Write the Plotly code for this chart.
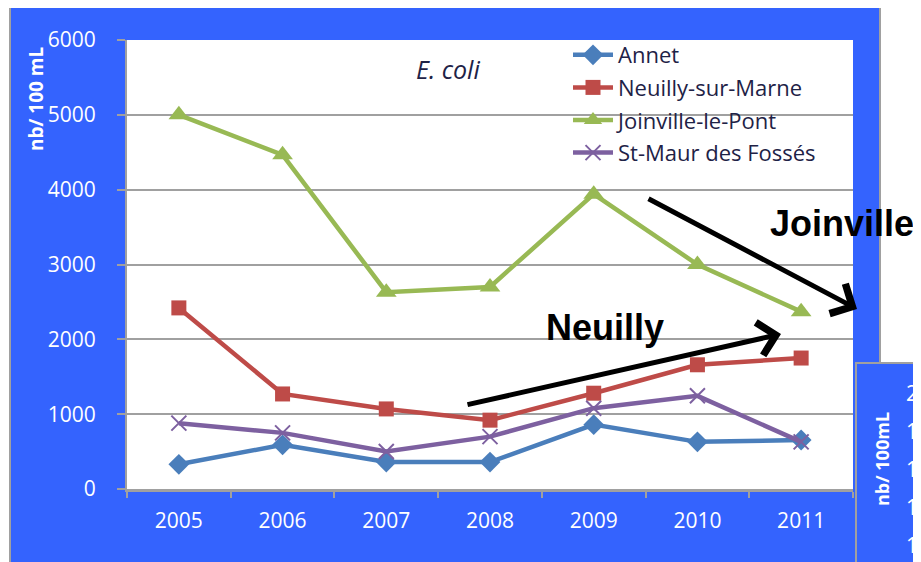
import plotly.graph_objects as go

# ---- data ----
years = ["2005", "2006", "2007", "2008", "2009", "2010", "2011"]
annet = [330, 590, 360, 360, 860, 630, 655]
neuilly = [2420, 1270, 1070, 920, 1280, 1660, 1750]
joinville = [5000, 4465, 2630, 2700, 3940, 3000, 2370]
stmaur = [880, 750, 500, 700, 1080, 1245, 630]
series_names = ["Annet", "Neuilly-sur-Marne", "Joinville-le-Pont", "St-Maur des Fossés"]
y_ticks = [0, 1000, 2000, 3000, 4000, 5000, 6000]
side_ticks = ["2", "1", "1", "1", "1"]

# ---- layout helpers (window pixel -> paper); page body has an 8px margin ----
OFF = 8
W, H = 921 - OFF, 562 - OFF
L, R, T, B = 127, 853, 40, 489
def px(x):
    return (x - L) / (R - L)
def py(y):
    return (B - y) / (B - T)

BLUE = "#3463FE"
GRAY = "#A0A0A0"
TXT = "#1E2246"
FONT = "Open Sans"

colors = ["#4A7EBB", "#BE4B48", "#98B954", "#7D60A0"]
symbols = ["diamond", "square", "triangle-up", "x-thin"]
sizes = [16, 15, 18, 15]
values = [annet, neuilly, joinville, stmaur]

fig = go.Figure()
for name, vals, c, s, sz in zip(series_names, values, colors, symbols, sizes):
    mk = dict(symbol=s, size=sz, color=c)
    if s == "x-thin":
        mk["line"] = dict(color=c, width=2)
    fig.add_trace(go.Scatter(
        x=years, y=vals, name=name, mode="lines+markers",
        line=dict(color=c, width=4.5), marker=mk, legendgroup=name,
    ))

shapes = [
    dict(type="rect", xref="paper", yref="paper", x0=px(10), x1=px(880), y0=py(575), y1=py(4),
         fillcolor=BLUE, line=dict(color=GRAY, width=2), layer="below"),
    dict(type="rect", xref="paper", yref="paper", x0=0, x1=1, y0=0, y1=1,
         fillcolor="white", line=dict(width=0), layer="below"),
    dict(type="rect", xref="paper", yref="paper", x0=px(856), x1=px(935), y0=py(575), y1=py(363),
         fillcolor=BLUE, line=dict(color=GRAY, width=2), layer="above"),
]

def ann(text, x, y, size, color, family=FONT, angle=0, xanchor="center"):
    return dict(text=text, xref="paper", yref="paper", x=px(x), y=py(y), textangle=angle,
                xanchor=xanchor, yanchor="middle", showarrow=False,
                font=dict(family=family, size=size, color=color))

annotations = [
    ann("<b>nb/ 100 mL</b>", 36, 99, 19, "white", angle=-90),
    ann("<i>E. coli</i>", 448, 69, 25, TXT),
    ann("<b>Joinville</b>", 768, 223, 36, "black", family="Liberation Sans", xanchor="left"),
    ann("<b>Neuilly</b>", 605, 327, 36, "black", family="Liberation Sans"),
    dict(text="", xref="paper", yref="paper", x=px(857), y=py(309), ax=647 - 857, ay=198 - 309,
         showarrow=True, arrowhead=4, arrowsize=1.3, arrowwidth=5, arrowcolor="black"),
    dict(text="", xref="paper", yref="paper", x=px(781), y=py(334), ax=466 - 781, ay=405 - 334,
         showarrow=True, arrowhead=4, arrowsize=1.3, arrowwidth=5, arrowcolor="black"),
    ann("<b>nb/ 100mL</b>", 882, 459, 18, "white", angle=-90),
]
for i, t in enumerate(side_ticks):
    annotations.append(ann(t, 920, 393 + i * 38, 21, "white", xanchor="right"))

fig.update_layout(
    width=W, height=H,
    margin=dict(l=L - OFF, r=921 - R, t=T - OFF, b=562 - B, pad=0),
    paper_bgcolor="white", plot_bgcolor="white",
    font=dict(family=FONT, size=21, color=TXT),
    shapes=shapes, annotations=annotations,
    showlegend=True,
    legend=dict(x=px(568), y=py(34), xanchor="left", yanchor="top",
                bgcolor="rgba(0,0,0,0)", font=dict(family=FONT, size=22, color=TXT),
                tracegroupgap=1, itemwidth=40),
    xaxis=dict(type="category", range=[-0.5, 6.5], autorange=False,
               showgrid=False, showline=True, linecolor=GRAY, linewidth=3,
               ticks="outside", tickson="boundaries", ticklen=6, tickcolor=GRAY, tickwidth=2,
               tickfont=dict(family=FONT, size=21, color="white"), ticklabelstandoff=11,
               zeroline=False, fixedrange=True),
    yaxis=dict(range=[0, 6000], tickvals=y_ticks, showgrid=True, gridcolor=GRAY, gridwidth=1.5,
               showline=True, linecolor=GRAY, linewidth=2, ticks="outside", ticklen=8,
               tickcolor=GRAY, tickwidth=2, zeroline=False,
               tickfont=dict(family=FONT, size=21, color="white"), ticklabelstandoff=17),
)

fig.write_html("out.html")
